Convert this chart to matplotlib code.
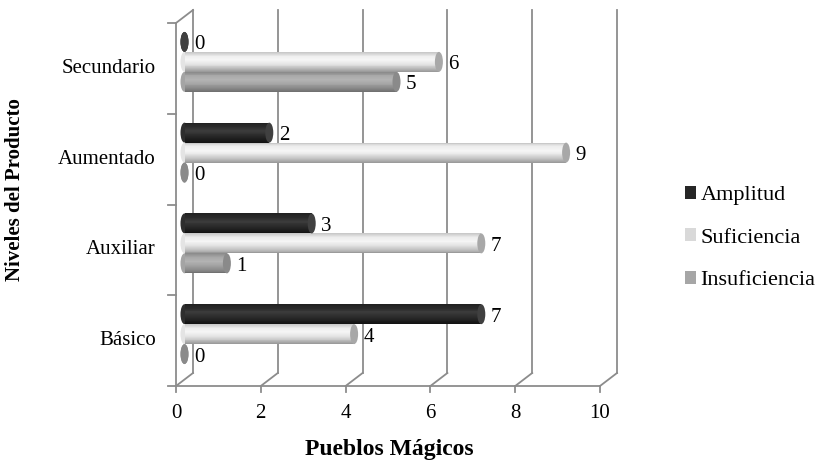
import matplotlib.pyplot as plt
import numpy as np
from matplotlib.patches import Ellipse, Patch
from matplotlib.colors import to_rgb

plt.rcParams['font.family'] = ['Liberation Serif', 'DejaVu Serif']

# Data
categorias = ['Básico', 'Auxiliar', 'Aumentado', 'Secundario']
series = ['Amplitud', 'Suficiencia', 'Insuficiencia']
amplitud = [7, 3, 2, 0]
suficiencia = [4, 7, 9, 6]
insuficiencia = [0, 1, 0, 5]
xticks = [0, 2, 4, 6, 8, 10]

valores = [amplitud, suficiencia, insuficiencia]

# shading stops bottom -> top for each cylinder
stops = [
    ['#121212', '#1f1f1f', '#2e2e2e', '#3c3c3c', '#2a2a2a', '#202020'],
    ['#969696', '#c2c2c2', '#e4e4e4', '#f6f6f6', '#ededed', '#c4c4c4'],
    ['#6e6e6e', '#8c8c8c', '#a4a4a4', '#b4b4b4', '#a8a8a8', '#888888'],
]
cap_colors = ['#404040', '#a8a8a8', '#8a8a8a']
legend_colors = ['#262626', '#d9d9d9', '#a6a6a6']

fig = plt.figure(figsize=(8.21, 4.66), dpi=100)
ax = fig.add_axes([176 / 821, (466 - 386) / 466, 424 / 821, 363 / 466])
ax.set_xlim(0, 10)
ax.set_ylim(0, 4)
ax.axis('off')

# depth offset of the back wall (data units)
px_x = 424 / 10
px_y = 363 / 4
DX = 17 / px_x
DY = 13 / px_y
grid_c = '#8c8c8c'
lw = 1.3
fs = 15

# back wall gridlines and floor diagonals
for x in xticks:
    ax.plot([x + DX, x + DX], [DY, 4 + DY], color=grid_c, lw=lw, clip_on=False)
    ax.plot([x, x + DX], [0, DY], color=grid_c, lw=lw, clip_on=False)
    ax.plot([x, x], [0, -6 / px_y], color=grid_c, lw=lw, clip_on=False)
    ax.text(x, -28 / px_y, str(x), ha='center', va='center', fontsize=fs)

# front axes lines
ax.plot([0, 10], [0, 0], color=grid_c, lw=lw, clip_on=False)
ax.plot([0, 0], [0, 4], color=grid_c, lw=lw, clip_on=False)
ax.plot([0, DX], [4, 4 + DY], color=grid_c, lw=lw, clip_on=False)
for y in range(5):
    ax.plot([-8 / px_x, 0], [y, y], color=grid_c, lw=lw, clip_on=False)

for i, cat in enumerate(categorias):
    ax.text(-20 / px_x, i + 0.5, cat, ha='right', va='center', fontsize=fs)

# cylinders in the middle plane
h = 0.22
sep = 0.22
mx = DX / 2
my = DY / 2
cap_w = 8 / px_x
nstrip = 22
for s, vals in enumerate(valores):
    cols = np.array([to_rgb(c) for c in stops[s]])
    t_stop = np.linspace(0, 1, len(cols))
    for i, v in enumerate(vals):
        yc = i + 0.5 + sep * (1 - s) + my
        x0 = mx
        # left rounded end
        ax.add_patch(Ellipse((x0, yc), cap_w, h, facecolor=cols[2], edgecolor='none',
                             clip_on=False, zorder=3))
        if v > 0:
            for k in range(nstrip):
                t = (k + 0.5) / nstrip
                c = [np.interp(t, t_stop, cols[:, j]) for j in range(3)]
                ax.barh(yc - h / 2 + k * h / nstrip, v, height=h / nstrip * 1.05, left=x0,
                        align='edge', color=c, edgecolor='none', zorder=3, clip_on=False)
        ax.add_patch(Ellipse((x0 + v, yc), cap_w, h, facecolor=cap_colors[s],
                             edgecolor='none', clip_on=False, zorder=4))
        ax.text(x0 + v + 0.22, yc - 3 / px_y, str(v), ha='left', va='center',
                fontsize=fs, zorder=5)

fig.text(389 / 821, 1 - 450 / 466, 'Pueblos Mágicos', ha='center', va='center',
         fontsize=17, fontweight='bold')
fig.text(15 / 821, 1 - 190 / 466, 'Niveles del Producto', ha='center', va='center',
         fontsize=fs, fontweight='bold', rotation=90)

handles = [Patch(facecolor=c, edgecolor='none') for c in legend_colors]
fig.legend(handles, series, loc='center left', bbox_to_anchor=(674 / 821, 1 - 238 / 466),
           frameon=False, fontsize=16, handlelength=0.5, handleheight=0.5,
           handletextpad=0.2, labelspacing=1.05, borderpad=0)

fig.savefig('out.png', dpi=100)
